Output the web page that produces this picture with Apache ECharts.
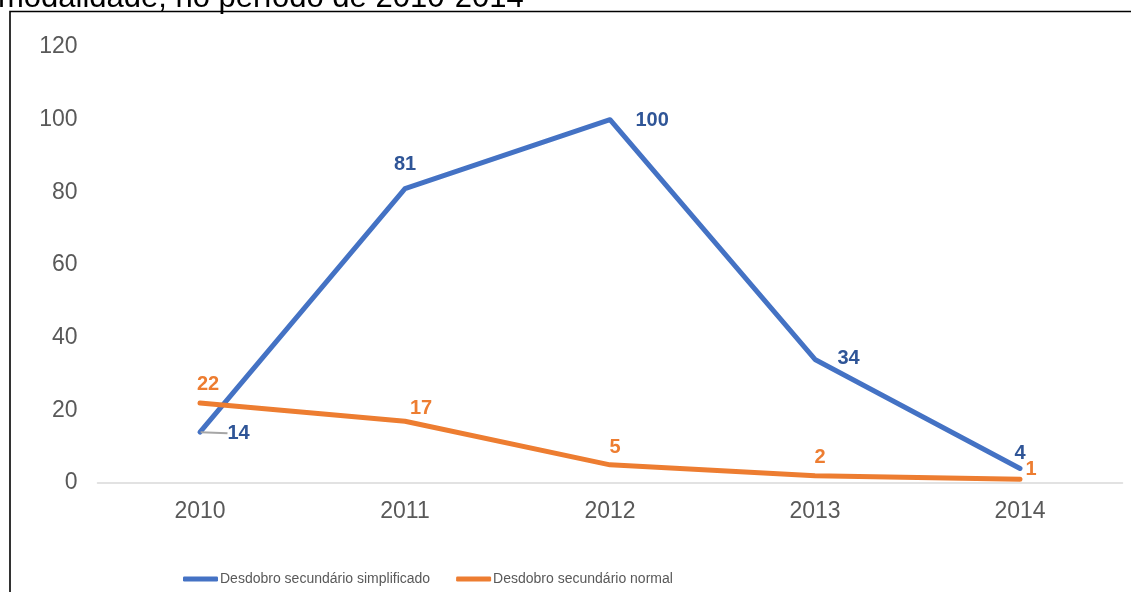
<!DOCTYPE html>
<html>
<head>
<meta charset="utf-8">
<title>Desdobro secundário</title>
<script src="https://cdn.jsdelivr.net/npm/echarts@6/dist/echarts.min.js"></script>
<style>
    html, body { margin: 0; padding: 0; background: #fff; }
    #chart { width: 1131px; height: 592px; }
</style>
</head>
<body>
<div id="chart"></div>
<script>
(function() {

let years = ['2010', '2011', '2012', '2013', '2014']
let simplificado = [14, 81, 100, 34, 4]
let normal = [22, 17, 5, 2, 1]
let yTicks = [0, 20, 40, 60, 80, 100, 120]

// posição dos rótulos: [posição, distância, dx, dy]
let rotSimplificado = [['right', 5, 22, 1], ['top', 14, 0, 0], ['right', 25, 0, 1], ['right', 22, 0, -1], ['top', 4, 0, 0]]
let rotNormal = [['top', 8, 8, 0], ['top', 2, 16, 0], ['top', 7, 5, 0], ['top', 8, 5, 0], ['right', 5, 0, -10]]

let blue = '#4472c4', blueTxt = '#2f5597', orange = '#ed7d31'

function makeData(values, rot, color) {
    return values.map((v, i) => ({
        value: v,
        label: { position: rot[i][0], distance: rot[i][1], color: color },
        labelLine: { show: i === 0 && rot === rotSimplificado }
    }))
}

function layoutFor(rot) {
    return function(p) {
        let r = rot[p.dataIndex]
        return { dx: r[2], dy: r[3] }
    }
}

let chart = echarts.init(document.getElementById('chart'))

let option = {
    animation: false,
    backgroundColor: '#fff',
    textStyle: { fontFamily: 'Liberation Sans, Arial, sans-serif' },
    graphic: [
        {
            type: 'text',
            style: {
                x: -2, y: 13.5,
                text: 'modalidade, no período de 2010-2014',
                font: '31px "Liberation Sans", Arial, sans-serif',
                fill: '#000',
                verticalAlign: 'bottom'
            },
            z: 1
        },
        {
            type: 'rect',
            shape: { x: 10, y: 11.5, width: 1200, height: 700 },
            style: { fill: 'none', stroke: '#000', lineWidth: 1.6 },
            z: 2
        }
    ],
    grid: { left: 97.5, right: 8.5, top: 47, bottom: 109, containLabel: false },
    legend: {
        left: 178,
        top: 567,
        icon: 'roundRect',
        itemWidth: 35,
        itemHeight: 5,
        itemGap: 26,
        textStyle: {
            fontSize: 14,
            color: '#595959',
            padding: [0, 0, 0, -3]
        },
        data: ['Desdobro secundário simplificado', 'Desdobro secundário normal']
    },
    xAxis: {
        type: 'category',
        data: years,
        axisLine: { lineStyle: { color: '#d9d9d9', width: 1.5 } },
        axisTick: { show: false },
        axisLabel: { fontSize: 23, color: '#595959', margin: 17 }
    },
    yAxis: {
        type: 'value',
        min: yTicks[0],
        max: yTicks[yTicks.length - 1],
        interval: 20,
        splitLine: { show: false },
        axisLine: { show: false },
        axisLabel: { fontSize: 23, color: '#595959', margin: 20 }
    },
    series: [
        {
            name: 'Desdobro secundário simplificado',
            type: 'line',
            data: makeData(simplificado, rotSimplificado, blueTxt),
            symbol: 'circle',
            symbolSize: 1,
            itemStyle: { color: blue },
            lineStyle: { color: blue, width: 5, cap: 'round', join: 'round' },
            label: { show: true, fontSize: 20, fontWeight: 'bold' },
            labelLayout: layoutFor(rotSimplificado),
            labelLine: { show: false, length2: 0, lineStyle: { color: '#a6a6a6', width: 2 } },
            z: 3
        },
        {
            name: 'Desdobro secundário normal',
            type: 'line',
            data: makeData(normal, rotNormal, orange),
            symbol: 'circle',
            symbolSize: 1,
            itemStyle: { color: orange },
            lineStyle: { color: orange, width: 5, cap: 'round', join: 'round' },
            label: { show: true, fontSize: 20, fontWeight: 'bold' },
            labelLayout: layoutFor(rotNormal),
            labelLine: { show: false },
            z: 3
        }
    ]
}

chart.setOption(option)

})()
</script>
</body>
</html>
